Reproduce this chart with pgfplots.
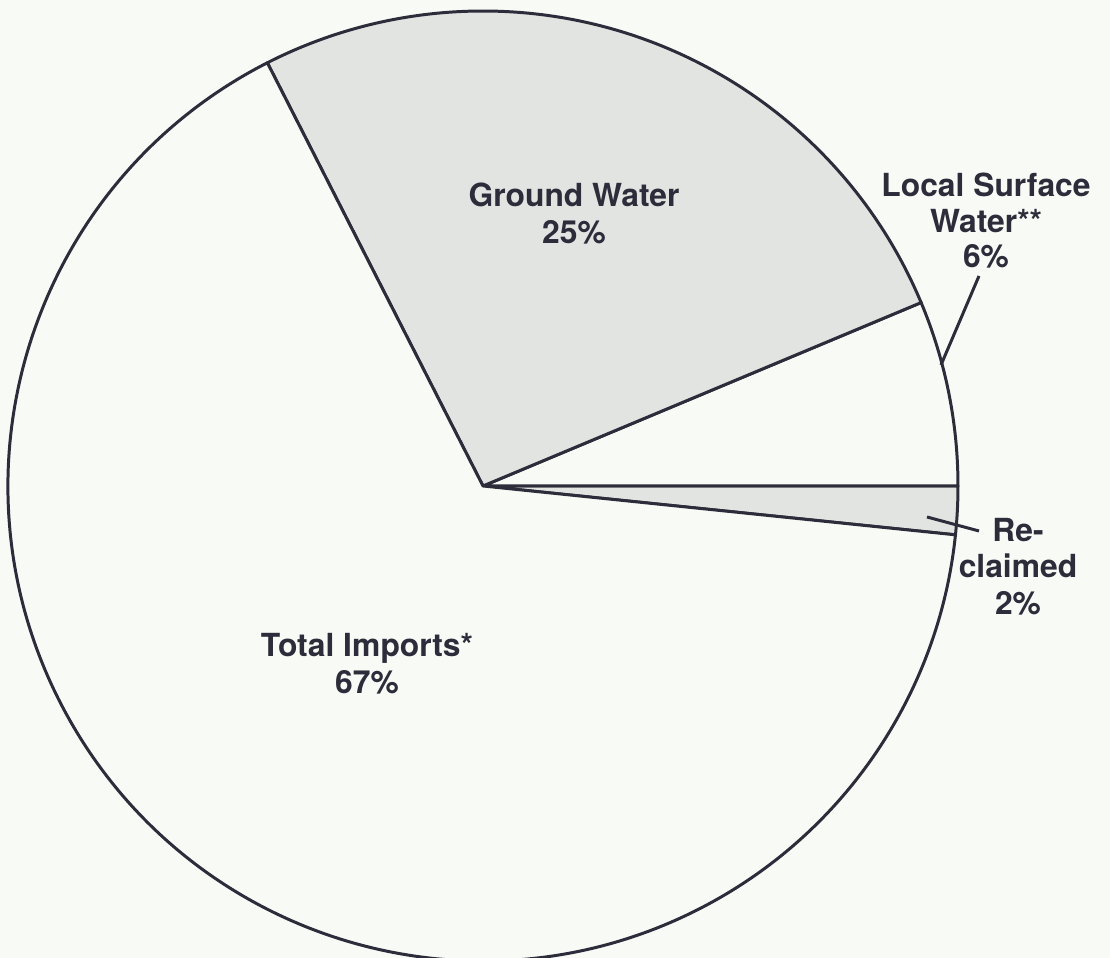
\documentclass[border=0pt]{standalone}
\usepackage{pgfplots}
\usepackage{pgfplotstable}
\pgfplotsset{compat=1.18}
\usepackage{fontspec}
\setmainfont{TeX Gyre Heros}

\definecolor{ink}{RGB}{44,44,58}
\definecolor{pieGray}{RGB}{226,228,226}
\definecolor{paper}{RGB}{248,250,246}

% shares of water supply, in %; first slice starts just below 3 o'clock
\pgfplotstableread{
share fill
1.64  pieGray
6.31  paper
26.19 pieGray
65.86 paper
}\slices

\tikzset{lbl/.style={anchor=base, text=ink, inner sep=0pt,
    font=\fontsize{9.05}{10}\selectfont\bfseries}}

\begin{document}
\begin{tikzpicture}
\pgfmathsetmacro{\cum}{-3.6*1.64}
\pgfplotsforeachungrouped \i in {0,...,3}{%
  \pgfplotstablegetelem{\i}{share}\of\slices
  \pgfmathsetmacro{\nxt}{\cum+3.6*\pgfplotsretval}%
  \expandafter\xdef\csname sa\i\endcsname{\cum}%
  \expandafter\xdef\csname ea\i\endcsname{\nxt}%
  \pgfplotstablegetelem{\i}{fill}\of\slices
  \colorlet{slice\i}{\pgfplotsretval}%
  \global\let\cum\nxt
}
\begin{axis}[name=ax, hide axis, scale only axis,
    width=11.1cm, height=9.58cm,
    xmin=0, xmax=1110, ymin=0, ymax=958, clip=true]
  \fill[paper] (axis cs:0,0) rectangle (axis cs:1110,958);
  \pgfplotsinvokeforeach{0,...,3}{
    \filldraw[draw=ink, line width=0.85pt, fill=slice#1, line join=round]
      (axis cs:483,472) -- ++(\csname sa#1\endcsname:4.75cm)
      arc[start angle=\csname sa#1\endcsname, end angle=\csname ea#1\endcsname, radius=4.75cm] -- cycle;
  }
  % leader lines
  \addplot[ink, line width=0.85pt, no marks] coordinates {(941,593) (979,682)};
  \addplot[ink, line width=0.85pt, no marks] coordinates {(927,441) (979,427)};

  \node[lbl] at (axis cs:574,751) {Ground Water};
  \node[lbl] at (axis cs:574,714) {25\%};
  \node[lbl] at (axis cs:367,301) {Total Imports*};
  \node[lbl] at (axis cs:367,264) {67\%};
  \node[lbl] at (axis cs:986,761) {Local Surface};
  \node[lbl] at (axis cs:986,725) {Water**};
  \node[lbl] at (axis cs:986,690) {6\%};
  \node[lbl] at (axis cs:1018,416) {Re-};
  \node[lbl] at (axis cs:1018,380) {claimed};
  \node[lbl] at (axis cs:1018,343) {2\%};
\end{axis}
\pgfresetboundingbox
\useasboundingbox (ax.south west) rectangle (ax.north east);
\end{tikzpicture}
\end{document}
